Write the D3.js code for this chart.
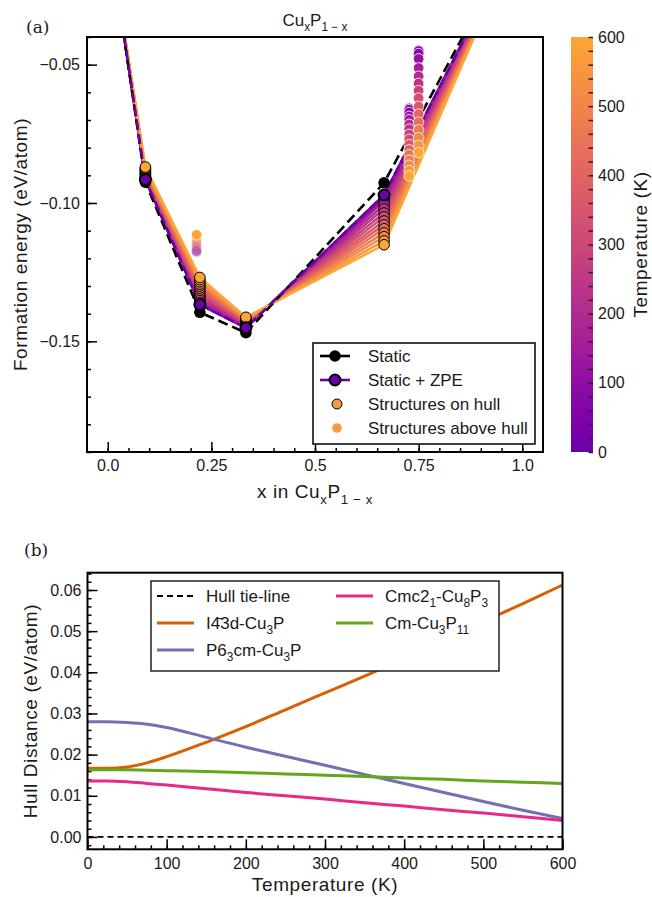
<!DOCTYPE html>
<html>
<head>
<meta charset="utf-8">
<script src="https://cdn.jsdelivr.net/npm/d3@7"></script>
<style>
  body { margin: 0; background: #fff; }
  text { font-family: "Liberation Sans", Arial, sans-serif; fill: #1a1a1a; }
  .axlabel { font-size: 19px; letter-spacing: 0.6px; }
</style>
</head>
<body>
<div id="viz"></div>
<script>
// ---- panel (a) data ----
var temps = [0, 40, 80, 120, 160, 200, 240, 280, 320, 360, 400, 440, 480, 520, 560, 600];
var hullX = [0, 1 / 11, 2 / 9, 1 / 3, 2 / 3, 1];
var staticE = [0, -0.0925, -0.1395, -0.1469, -0.0927, 0];
var zpeE = [0, -0.0915, -0.1367, -0.1451, -0.0971, 0];

// hull vertices vs temperature (eV/atom)
var eCuP10 = [-0.0915, -0.0915, -0.0914, -0.0912, -0.0910, -0.0906, -0.0902, -0.0899, -0.0895, -0.0892, -0.0888, -0.0884, -0.0881, -0.0877, -0.0874, -0.0870];
var eCu2P7 = [-0.1367, -0.1366, -0.1364, -0.1360, -0.1355, -0.1347, -0.1340, -0.1332, -0.1324, -0.1316, -0.1308, -0.1300, -0.1293, -0.1285, -0.1277, -0.1269];
var eCuP2 = [-0.1451, -0.1451, -0.1450, -0.1448, -0.1446, -0.1443, -0.1440, -0.1437, -0.1434, -0.1431, -0.1428, -0.1425, -0.1422, -0.1419, -0.1416, -0.1413];
var eCu2P = [-0.0971, -0.0973, -0.0976, -0.0984, -0.0993, -0.1007, -0.1021, -0.1036, -0.1050, -0.1065, -0.1079, -0.1093, -0.1108, -0.1122, -0.1137, -0.1151];

// structures above hull
var xCu3P11 = 3 / 14, xCu8P3 = 8 / 11, xCu3P = 0.75;
var eCu3P11 = [-0.1177, -0.1176, -0.1175, -0.1173, -0.1170, -0.1165, -0.1160, -0.1155, -0.1149, -0.1145, -0.1140, -0.1135, -0.1130, -0.1125, -0.1120, -0.1115];
var eCu8P3 = [-0.0658, -0.0663, -0.0673, -0.0687, -0.0699, -0.0716, -0.0733, -0.0752, -0.0770, -0.0789, -0.0808, -0.0826, -0.0845, -0.0864, -0.0883, -0.0902];
var eCu3P = [-0.0448, -0.0451, -0.0460, -0.0479, -0.0512, -0.0542, -0.0568, -0.0594, -0.0621, -0.0651, -0.0679, -0.0708, -0.0736, -0.0764, -0.0792, -0.0818];

var xTicksA = [0, 0.25, 0.5, 0.75, 1.0];
var xTickLabelsA = ["0.0", "0.25", "0.5", "0.75", "1.0"];
var yTicksA = [-0.15, -0.10, -0.05];
var cbTicks = [0, 100, 200, 300, 400, 500, 600];

// ---- panel (b) data ----
var tempsB = [0, 25, 50, 75, 100, 150, 200, 250, 300, 350, 400, 450, 500, 550, 600];
var dI43d = [0.0167, 0.0167, 0.0170, 0.0180, 0.0195, 0.0230, 0.0268, 0.0309, 0.0350, 0.0391, 0.0434, 0.0478, 0.0523, 0.0567, 0.0612];
var dP63cm = [0.0280, 0.0280, 0.0278, 0.0274, 0.0266, 0.0242, 0.0218, 0.0196, 0.0174, 0.0152, 0.0130, 0.0108, 0.0086, 0.0065, 0.0045];
var dCmc21 = [0.0136, 0.0136, 0.0134, 0.0130, 0.0126, 0.0117, 0.0108, 0.0100, 0.0092, 0.0083, 0.0075, 0.0066, 0.0058, 0.0049, 0.0040];
var dCm = [0.0163, 0.0163, 0.0163, 0.0162, 0.0161, 0.0159, 0.0156, 0.0153, 0.0150, 0.0147, 0.0143, 0.0140, 0.0136, 0.0133, 0.0130];
var dTie = [0, 0, 0, 0, 0, 0, 0, 0, 0, 0, 0, 0, 0, 0, 0];
var xTicksB = [0, 100, 200, 300, 400, 500, 600];
var yTicksB = [0, 0.01, 0.02, 0.03, 0.04, 0.05, 0.06];

var svg = d3.select("#viz").append("svg")
    .attr("width", 652)
    .attr("height", 897);

var color = function(t) { return d3.interpolatePlasma(0.2 + 0.6 * t / 600); };

// text with subscripts: parts = [[string, isSub], ...]
function rich(sel, parts, size) {
    var shift = 0;
    parts.forEach(function(p) {
        var target = p[1] ? size * 0.32 : 0;
        sel.append("tspan")
            .attr("dy", target - shift)
            .attr("font-size", p[1] ? size * 0.7 : size)
            .text(p[0]);
        shift = target;
    });
}

function styleAxis(g, size) {
    g.select(".domain").remove();
    g.selectAll(".tick line").attr("stroke", "#000").attr("stroke-width", 1.5);
    g.selectAll(".tick text").attr("font-size", size).attr("fill", "#1a1a1a")
        .attr("font-family", "Liberation Sans, Arial, sans-serif");
}

// ================= panel (a) =================
var A = {l: 87, r: 543, t: 37, b: 452};
var xA = d3.scaleLinear().domain([-0.05, 1.05]).range([A.l, A.r]);
var yA = d3.scaleLinear().domain([-0.19, -0.04]).range([A.b, A.t]);

svg.append("clipPath").attr("id", "clipA").append("rect")
    .attr("x", A.l).attr("y", A.t).attr("width", A.r - A.l).attr("height", A.b - A.t);

// axes
svg.append("g").attr("transform", "translate(0," + A.b + ")")
    .call(d3.axisBottom(xA).tickValues(d3.range(0, 1.001, 0.05)).tickSize(-4).tickFormat(""))
    .call(styleAxis, 16);
svg.append("g").attr("transform", "translate(0," + A.b + ")")
    .call(d3.axisBottom(xA).tickValues(xTicksA).tickSize(-10).tickPadding(8)
        .tickFormat(function(d, i) { return xTickLabelsA[i]; }))
    .call(styleAxis, 16);
svg.append("g").attr("transform", "translate(" + A.l + ",0)")
    .call(d3.axisLeft(yA).tickValues(d3.range(-0.19, -0.039, 0.01)).tickSize(-4).tickFormat(""))
    .call(styleAxis, 16);
svg.append("g").attr("transform", "translate(" + A.l + ",0)")
    .call(d3.axisLeft(yA).tickValues(yTicksA).tickSize(-10).tickPadding(7).tickFormat(d3.format(".2f")))
    .call(styleAxis, 16);

var plotA = svg.append("g").attr("clip-path", "url(#clipA)");

var lineA = d3.line()
    .x(function(d) { return xA(d.x); })
    .y(function(d) { return yA(d.e); });

// one hull line per temperature
var hullRows = temps.map(function(t, i) {
    var es = [0, eCuP10[i], eCu2P7[i], eCuP2[i], eCu2P[i], 0];
    return {t: t, pts: hullX.map(function(x, j) { return {x: x, e: es[j]}; })};
});

plotA.selectAll("path.fan")
    .data(hullRows)
    .enter()
    .append("path")
    .attr("class", "fan")
    .attr("d", function(d) { return lineA(d.pts); })
    .style("stroke", function(d) { return color(d.t); })
    .style("stroke-width", 2.4)
    .style("fill", "none");

var staticPts = hullX.map(function(x, j) { return {x: x, e: staticE[j]}; });
var zpePts = hullX.map(function(x, j) { return {x: x, e: zpeE[j]}; });

plotA.append("path")
    .attr("d", lineA(staticPts))
    .style("stroke", "#000").style("stroke-width", 2.6)
    .style("stroke-dasharray", "10,5").style("fill", "none");
plotA.append("path")
    .attr("d", lineA(zpePts))
    .style("stroke", color(0)).style("stroke-width", 2.6)
    .style("stroke-dasharray", "10,4").style("fill", "none");

// structures above hull
var above = [];
temps.forEach(function(t, i) {
    above.push({x: xCu3P11, e: eCu3P11[i], t: t, op: i === temps.length - 1 ? 1 : 0.22});
    above.push({x: xCu8P3, e: eCu8P3[i], t: t, op: 1});
    above.push({x: xCu3P, e: eCu3P[i], t: t, op: 1});
});
plotA.selectAll("circle.above")
    .data(above)
    .enter()
    .append("circle")
    .attr("class", "above")
    .attr("cx", function(d) { return xA(d.x); })
    .attr("cy", function(d) { return yA(d.e); })
    .attr("r", 5.3)
    .style("fill", function(d) { return color(d.t); })
    .style("stroke", "#fff")
    .style("stroke-width", 0.8)
    .style("opacity", function(d) { return d.op; });

// structures on hull
var onHull = [];
hullRows.forEach(function(row) {
    row.pts.slice(1, 5).forEach(function(p) { onHull.push({x: p.x, e: p.e, t: row.t}); });
});
plotA.selectAll("circle.on")
    .data(onHull)
    .enter()
    .append("circle")
    .attr("class", "on")
    .attr("cx", function(d) { return xA(d.x); })
    .attr("cy", function(d) { return yA(d.e); })
    .attr("r", 5.3)
    .style("fill", function(d) { return color(d.t); })
    .style("stroke", "#000")
    .style("stroke-width", 1);

plotA.selectAll("circle.static")
    .data(staticPts)
    .enter()
    .append("circle")
    .attr("class", "static")
    .attr("cx", function(d) { return xA(d.x); })
    .attr("cy", function(d) { return yA(d.e); })
    .attr("r", 5.8)
    .style("fill", "#000");

plotA.selectAll("circle.zpe")
    .data(zpePts)
    .enter()
    .append("circle")
    .attr("class", "zpe")
    .attr("cx", function(d) { return xA(d.x); })
    .attr("cy", function(d) { return yA(d.e); })
    .attr("r", 5.5)
    .style("fill", color(0))
    .style("stroke", "#000")
    .style("stroke-width", 2);

// frame
svg.append("rect")
    .attr("x", A.l).attr("y", A.t).attr("width", A.r - A.l).attr("height", A.b - A.t)
    .style("fill", "none").style("stroke", "#000").style("stroke-width", 2);

// legend (a)
var legA = svg.append("g");
legA.append("rect")
    .attr("x", 313).attr("y", 343).attr("width", 222).attr("height", 101)
    .style("fill", "#fff").style("stroke", "#000").style("stroke-width", 1.5);
var legAItems = ["Static", "Static + ZPE", "Structures on hull", "Structures above hull"];
legAItems.forEach(function(label, i) {
    var cy = 356 + i * 24;
    if (i === 0) {
        legA.append("line").attr("x1", 320).attr("x2", 350).attr("y1", cy).attr("y2", cy)
            .style("stroke", "#000").style("stroke-width", 2.6);
        legA.append("circle").attr("cx", 335).attr("cy", cy).attr("r", 5.8).style("fill", "#000");
    } else if (i === 1) {
        legA.append("line").attr("x1", 320).attr("x2", 350).attr("y1", cy).attr("y2", cy)
            .style("stroke", color(0)).style("stroke-width", 2.6);
        legA.append("circle").attr("cx", 335).attr("cy", cy).attr("r", 5.5)
            .style("fill", color(0)).style("stroke", "#000").style("stroke-width", 2);
    } else if (i === 2) {
        legA.append("circle").attr("cx", 337).attr("cy", cy).attr("r", 5)
            .style("fill", "#f59a3f").style("stroke", "#000").style("stroke-width", 1);
    } else {
        legA.append("circle").attr("cx", 337).attr("cy", cy).attr("r", 4.8)
            .style("fill", "#f59a3f");
    }
    legA.append("text").attr("x", 368).attr("y", cy + 6).attr("font-size", 17).text(label);
});

// titles (a)
rich(svg.append("text").attr("x", 315).attr("y", 26).attr("text-anchor", "middle"),
    [["Cu", false], ["x", true], ["P", false], ["1 \u2212 x", true]], 17);
rich(svg.append("text").attr("class", "axlabel").attr("x", 315).attr("y", 498).attr("text-anchor", "middle"),
    [["x in Cu", false], ["x", true], ["P", false], ["1 \u2212 x", true]], 19);
svg.append("text").attr("class", "axlabel")
    .attr("transform", "translate(27," + (A.t + A.b) / 2 + ") rotate(-90)")
    .attr("text-anchor", "middle")
    .text("Formation energy (eV/atom)");
svg.append("text").attr("x", 26).attr("y", 33).attr("font-size", 17)
    .style("font-family", "DejaVu Serif, Liberation Serif, serif").text("(a)");

// colorbar
var CB = {l: 571, r: 593, t: 37, b: 452};
var yCB = d3.scaleLinear().domain([0, 600]).range([CB.b, CB.t]);
var grad = svg.append("defs").append("linearGradient")
    .attr("id", "cbgrad").attr("x1", 0).attr("y1", 1).attr("x2", 0).attr("y2", 0);
d3.range(0, 601, 20).forEach(function(t) {
    grad.append("stop").attr("offset", t / 600).attr("stop-color", color(t));
});
svg.append("rect")
    .attr("x", CB.l).attr("y", CB.t).attr("width", CB.r - CB.l).attr("height", CB.b - CB.t)
    .style("fill", "url(#cbgrad)");
svg.append("g").attr("transform", "translate(" + CB.r + ",0)")
    .call(d3.axisRight(yCB).tickValues(d3.range(0, 601, 20)).tickSize(-4.5).tickFormat(""))
    .call(styleAxis, 16)
    .selectAll(".tick line").attr("stroke", "#222");
svg.append("g").attr("transform", "translate(" + CB.r + ",0)")
    .call(d3.axisRight(yCB).tickValues(cbTicks).tickSize(0).tickPadding(5))
    .call(styleAxis, 16);
svg.append("text").attr("class", "axlabel")
    .attr("transform", "translate(647," + (CB.t + CB.b) / 2 + ") rotate(-90)")
    .attr("text-anchor", "middle")
    .text("Temperature (K)");

// ================= panel (b) =================
var B = {l: 87.5, r: 562.5, t: 572.7, b: 849.3};
var xB = d3.scaleLinear().domain([0, 600]).range([B.l, B.r]);
var yB = d3.scaleLinear().domain([-0.003, 0.0642]).range([B.b, B.t]);

svg.append("clipPath").attr("id", "clipB").append("rect")
    .attr("x", B.l).attr("y", B.t).attr("width", B.r - B.l).attr("height", B.b - B.t);

svg.append("g").attr("transform", "translate(0," + B.b + ")")
    .call(d3.axisBottom(xB).tickValues(d3.range(0, 601, 20)).tickSize(-4).tickFormat(""))
    .call(styleAxis, 16);
svg.append("g").attr("transform", "translate(0," + B.b + ")")
    .call(d3.axisBottom(xB).tickValues(xTicksB).tickSize(-10).tickPadding(8))
    .call(styleAxis, 16);
svg.append("g").attr("transform", "translate(" + B.l + ",0)")
    .call(d3.axisLeft(yB).tickValues(d3.range(-0.002, 0.0641, 0.002)).tickSize(-4).tickFormat(""))
    .call(styleAxis, 16);
svg.append("g").attr("transform", "translate(" + B.l + ",0)")
    .call(d3.axisLeft(yB).tickValues(yTicksB).tickSize(-10).tickPadding(6).tickFormat(d3.format(".2f")))
    .call(styleAxis, 16);

var plotB = svg.append("g").attr("clip-path", "url(#clipB)");
var lineB = d3.line()
    .x(function(d) { return xB(d.t); })
    .y(function(d) { return yB(d.v); })
    .curve(d3.curveMonotoneX);

var seriesB = [
    {vals: dTie, color: "#000", w: 1.8, dash: "6,4"},
    {vals: dI43d, color: "#d95f02", w: 3},
    {vals: dP63cm, color: "#7570b3", w: 3},
    {vals: dCmc21, color: "#e7298a", w: 3},
    {vals: dCm, color: "#66a61e", w: 3}
];
seriesB.forEach(function(s) {
    plotB.append("path")
        .attr("d", lineB(tempsB.map(function(t, i) { return {t: t, v: s.vals[i]}; })))
        .style("stroke", s.color)
        .style("stroke-width", s.w)
        .style("stroke-dasharray", s.dash || null)
        .style("fill", "none");
});

svg.append("rect")
    .attr("x", B.l).attr("y", B.t).attr("width", B.r - B.l).attr("height", B.b - B.t)
    .style("fill", "none").style("stroke", "#000").style("stroke-width", 2);

// legend (b)
var legB = svg.append("g");
legB.append("rect")
    .attr("x", 151).attr("y", 581).attr("width", 348).attr("height", 90)
    .style("fill", "#fff").style("stroke", "#222").style("stroke-width", 1.5);
var legBItems = [
    {s: seriesB[0], x: 157, y: 596, parts: [["Hull tie-line", false]]},
    {s: seriesB[1], x: 157, y: 623, parts: [["I4\u03043d-Cu", false], ["3", true], ["P", false]]},
    {s: seriesB[2], x: 157, y: 650, parts: [["P6", false], ["3", true], ["cm-Cu", false], ["3", true], ["P", false]]},
    {s: seriesB[3], x: 336, y: 596, parts: [["Cmc2", false], ["1", true], ["-Cu", false], ["8", true], ["P", false], ["3", true]]},
    {s: seriesB[4], x: 336, y: 623, parts: [["Cm-Cu", false], ["3", true], ["P", false], ["11", true]]}
];
legBItems.forEach(function(it) {
    legB.append("line")
        .attr("x1", it.x).attr("x2", it.x + 37).attr("y1", it.y).attr("y2", it.y)
        .style("stroke", it.s.color).style("stroke-width", it.s.w)
        .style("stroke-dasharray", it.s.dash || null);
    rich(legB.append("text").attr("x", it.x + 49).attr("y", it.y + 6), it.parts, 17);
});

svg.append("text").attr("class", "axlabel").attr("x", 325).attr("y", 891).attr("text-anchor", "middle")
    .text("Temperature (K)");
svg.append("text").attr("class", "axlabel")
    .attr("transform", "translate(37," + (B.t + B.b) / 2 + ") rotate(-90)")
    .attr("text-anchor", "middle")
    .text("Hull Distance (eV/atom)");
svg.append("text").attr("x", 24).attr("y", 556).attr("font-size", 17)
    .style("font-family", "DejaVu Serif, Liberation Serif, serif").text("(b)");
</script>
</body>
</html>
